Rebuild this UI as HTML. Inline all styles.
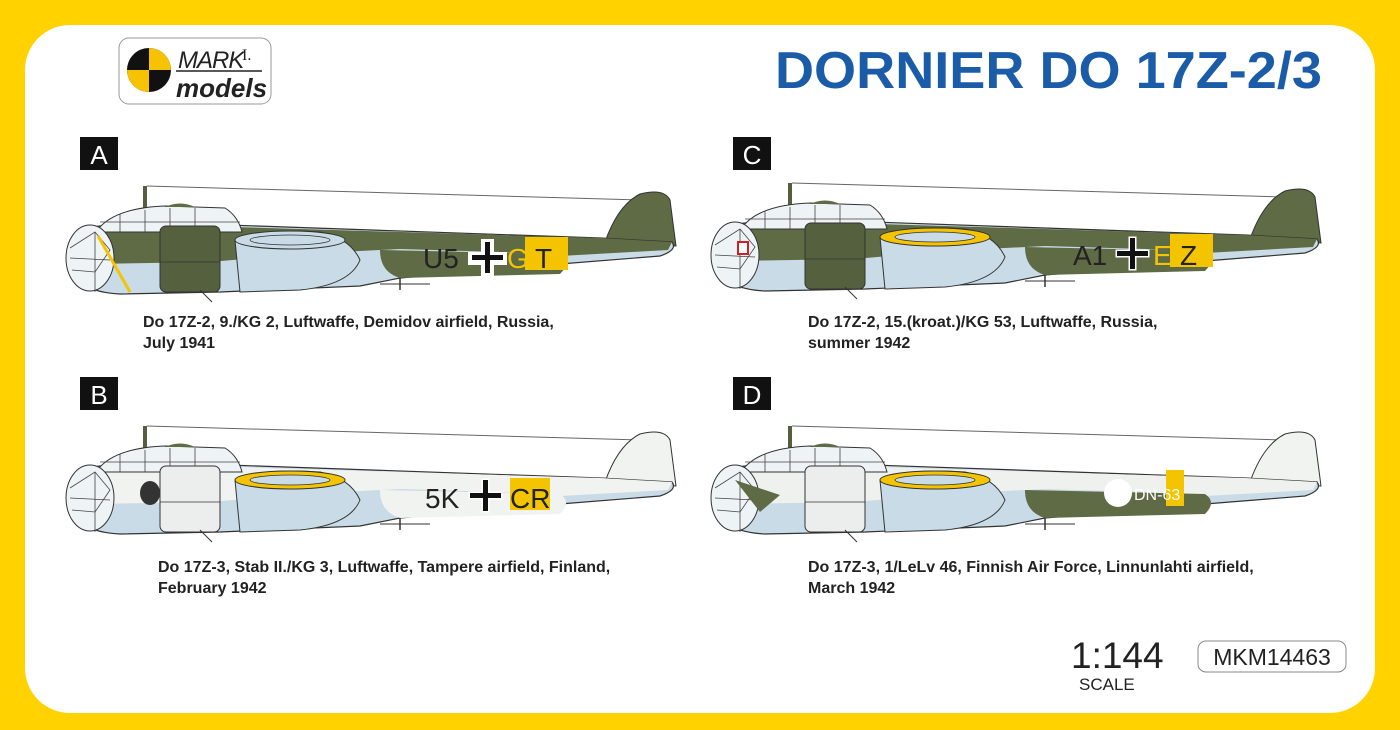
<!DOCTYPE html>
<html><head><meta charset="utf-8"><style>
html,body{margin:0;padding:0;background:#ffd200;}
svg{display:block;font-family:"Liberation Sans",sans-serif;}
</style></head><body>
<svg width="1400" height="730" viewBox="0 0 1400 730" xmlns="http://www.w3.org/2000/svg">
<defs>
<g id="plane">
 <line x1="145" y1="186" x2="145" y2="212" stroke="#555f40" stroke-width="4"/>
 <line x1="147" y1="186" x2="640" y2="200" stroke="#666" stroke-width="1"/>
 <path d="M605,242 Q618,205 640,194 Q664,188 670,200 L676,246 Z" style="fill:var(--fin)" stroke="#333" stroke-width="1"/>
 <path d="M70,240 Q82,228 100,226 L200,224 L600,238 L672,242 Q678,250 660,256 L560,264 L400,278 L360,286 L220,292 L120,294 Q80,292 70,270 Z" fill="#c8dbe6" stroke="#333" stroke-width="1.2"/>
 <path d="M90,230 L200,226 L600,238 L672,242 L668,250 L560,256 L500,252 L400,249 L300,254 L210,262 L90,264 Z" style="fill:var(--top)"/>
 <path d="M380,250 L560,254 Q572,262 560,274 L400,278 Q380,272 380,250 Z" style="fill:var(--top2)"/>
 <path d="M96,232 Q112,208 165,206 L225,208 Q238,216 242,232 Z" fill="#eef3f6" stroke="#333" stroke-width="1"/>
 <path d="M120,214 L120,232 M145,210 L145,232 M170,208 L170,232 M195,208 L195,232 M100,222 L240,222" stroke="#444" stroke-width="0.8" fill="none"/>
 <path d="M165,207 Q180,200 195,207 Z" style="fill:var(--dome)"/>
 <ellipse cx="90" cy="258" rx="24" ry="33" fill="#eef3f6" stroke="#333" stroke-width="1"/>
 <path d="M70,248 L95,232 L110,250 L95,272 L72,270 M95,232 L95,292 M70,258 L110,260" stroke="#444" stroke-width="0.8" fill="none"/>
 <path d="M235,240 Q260,228 320,232 Q350,238 360,260 Q350,285 300,290 L240,292 Z" fill="#c8dbe6" stroke="#333" stroke-width="1"/>
 <ellipse cx="290" cy="240" rx="55" ry="9" style="fill:var(--ring)" stroke="#333" stroke-width="1"/>
 <ellipse cx="290" cy="240" rx="40" ry="5" fill="#c8dbe6" stroke="#333" stroke-width="0.8"/>
 <rect x="160" y="226" width="60" height="66" rx="6" style="fill:var(--nac)" stroke="#333" stroke-width="1"/>
 <line x1="160" y1="262" x2="220" y2="262" stroke="#333" stroke-width="0.8"/>
 <line x1="200" y1="290" x2="212" y2="302" stroke="#333" stroke-width="1"/>
 <line x1="400" y1="278" x2="400" y2="290" stroke="#333" stroke-width="1.5"/>
 <line x1="380" y1="284" x2="430" y2="284" stroke="#333" stroke-width="1"/>
</g>
</defs>
<rect x="25" y="25" width="1350" height="688" rx="45" fill="#fff"/>
<rect x="119" y="38" width="152" height="66" rx="10" fill="#fff" stroke="#999" stroke-width="1"/>
<circle cx="149" cy="70" r="22" fill="#111"/>
<path d="M149,70 L171,70 A22,22 0 0 0 149,48 Z M149,70 L127,70 A22,22 0 0 0 149,92 Z" fill="#f7c200"/>
<text x="178" y="68" font-size="24" font-style="italic" fill="#222" letter-spacing="-1">MARK</text>
<text x="242" y="60" font-size="16" font-family="Liberation Serif,serif" fill="#222">I.</text>
<line x1="176" y1="71" x2="262" y2="71" stroke="#222" stroke-width="1.5"/>
<text x="176" y="97" font-size="26" font-weight="bold" font-style="italic" fill="#222">models</text>
<text x="775" y="88" font-size="52" font-weight="bold" fill="#1b5ca8" textLength="547" lengthAdjust="spacingAndGlyphs">DORNIER DO 17Z-2/3</text>
<rect x="80" y="137" width="38" height="33" fill="#111"/><text x="99" y="164" text-anchor="middle" font-size="26" fill="#fff">A</text>
<rect x="733" y="137" width="38" height="33" fill="#111"/><text x="752" y="164" text-anchor="middle" font-size="26" fill="#fff">C</text>
<rect x="80" y="377" width="38" height="33" fill="#111"/><text x="99" y="404" text-anchor="middle" font-size="26" fill="#fff">B</text>
<rect x="733" y="377" width="38" height="33" fill="#111"/><text x="752" y="404" text-anchor="middle" font-size="26" fill="#fff">D</text>
<use href="#plane" style="--top:#5e6b45;--top2:#5e6b45;--fin:#5e6b45;--nac:#55603f;--ring:#c8dbe6;--dome:#5e6b45"/>
<use href="#plane" transform="translate(645,-3)" style="--top:#5e6b45;--top2:#5e6b45;--fin:#5e6b45;--nac:#55603f;--ring:#f5c400;--dome:#5e6b45"/>
<use href="#plane" transform="translate(0,240)" style="--top:#f1f3f1;--top2:#f1f3f1;--fin:#f1f3f1;--nac:#eceeed;--ring:#f5c400;--dome:#5e6b45"/>
<use href="#plane" transform="translate(645,240)" style="--top:#eff1ef;--top2:#5e6b45;--fin:#f1f3f1;--nac:#eceeed;--ring:#f5c400;--dome:#5e6b45"/>
<line x1="98" y1="236" x2="130" y2="292" stroke="#f5c400" stroke-width="3"/>
<rect x="525" y="237" width="43" height="33" fill="#f5c400"/>
<text x="423" y="268" font-size="28" fill="#222">U5</text>
<path d="M470,254 h13 v-13 h9 v13 h13 v9 h-13 v13 h-9 v-13 h-13 Z" fill="#fff" stroke="#fff" stroke-width="4"/>
<path d="M472,255 h13 v-13 h5 v13 h13 v5 h-13 v13 h-5 v-13 h-13 Z" fill="#111"/>
<text x="507" y="268" font-size="28" fill="#f5c400">G</text><text x="535" y="268" font-size="28" fill="#222">T</text>
<rect x="1170" y="234" width="43" height="33" fill="#f5c400"/>
<rect x="738" y="242" width="10" height="12" fill="#fff" stroke="#c22" stroke-width="2"/>
<text x="1073" y="265" font-size="28" fill="#222">A1</text>
<path d="M1117,251 h13 v-13 h5 v13 h13 v5 h-13 v13 h-5 v-13 h-13 Z" fill="#111" stroke="#fff" stroke-width="3" paint-order="stroke"/>
<text x="1153" y="265" font-size="28" fill="#f5c400">E</text><text x="1180" y="265" font-size="28" fill="#222">Z</text>
<ellipse cx="150" cy="493" rx="10" ry="12" fill="#333"/>
<rect x="510" y="478" width="40" height="32" fill="#f5c400"/>
<text x="425" y="508" font-size="28" fill="#222">5K</text>
<path d="M470,493 h13 v-13 h5 v13 h13 v5 h-13 v13 h-5 v-13 h-13 Z" fill="#111" stroke="#fff" stroke-width="3" paint-order="stroke"/>
<text x="510" y="508" font-size="28" fill="#222">CR</text>
<path d="M735,480 L780,495 L760,512 Z" fill="#5e6b45"/>
<rect x="1166" y="470" width="18" height="36" fill="#f5c400"/>
<circle cx="1118" cy="493" r="14" fill="#fff"/>
<text x="1134" y="500" font-size="16" fill="#fff">DN-63</text>
<g font-size="16" font-weight="bold" fill="#222">
<text x="143" y="327">Do 17Z-2, 9./KG 2, Luftwaffe, Demidov airfield, Russia,</text>
<text x="143" y="348">July 1941</text>
<text x="808" y="327">Do 17Z-2, 15.(kroat.)/KG 53, Luftwaffe, Russia,</text>
<text x="808" y="348">summer 1942</text>
<text x="158" y="572">Do 17Z-3, Stab II./KG 3, Luftwaffe, Tampere airfield, Finland,</text>
<text x="158" y="593">February 1942</text>
<text x="808" y="572">Do 17Z-3, 1/LeLv 46, Finnish Air Force, Linnunlahti airfield,</text>
<text x="808" y="593">March 1942</text>
</g>
<text x="1071" y="668" font-size="37" fill="#222">1:144</text>
<text x="1079" y="690" font-size="17" fill="#222">SCALE</text>
<rect x="1198" y="641" width="148" height="31" rx="8" fill="#fff" stroke="#888" stroke-width="1"/>
<text x="1272" y="665" text-anchor="middle" font-size="23" fill="#222">MKM14463</text>
</svg>
</body></html>
